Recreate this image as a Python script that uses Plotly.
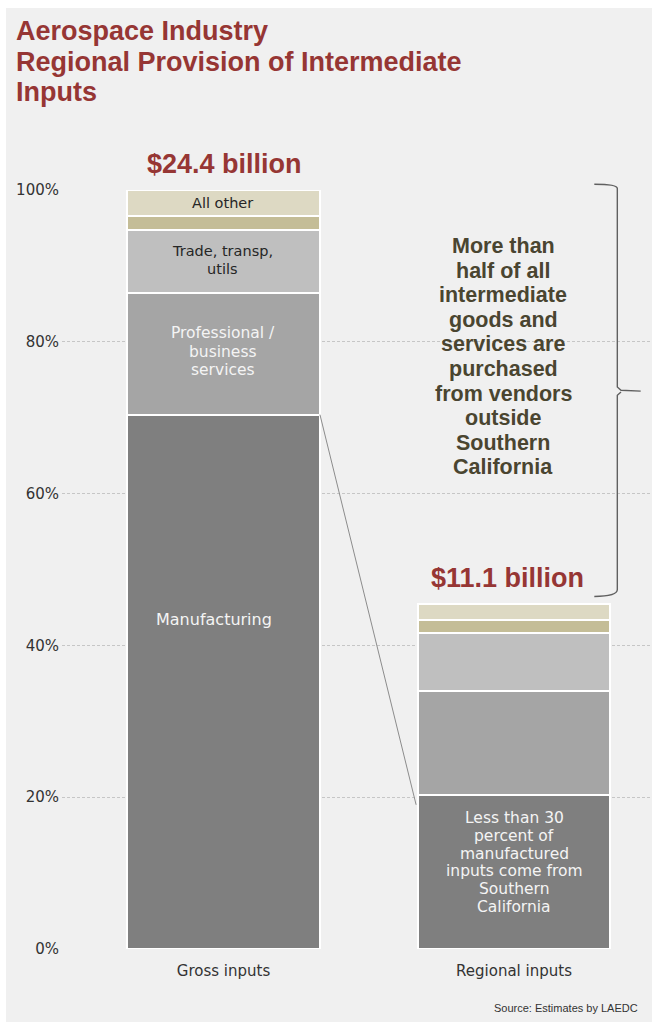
import plotly.graph_objects as go

# ---- data (percent of gross intermediate inputs) ----
categories = ["Gross inputs", "Regional inputs"]
segments = ["Manufacturing", "Professional / business services", "Trade, transp, utils", "Other (minor)", "All other"]
manufacturing = [70.4, 20.3]
professional = [16.0, 13.7]
trade = [8.3, 7.7]
minor_other = [1.9, 1.6]
all_other = [3.4, 2.2]
totals_label = ["$24.4 billion", "$11.1 billion"]
y_ticks = [0, 20, 40, 60, 80, 100]
y_tick_text = ["0%", "20%", "40%", "60%", "80%", "100%"]

series = [manufacturing, professional, trade, minor_other, all_other]
colors = ["#7f7f7f", "#a5a5a5", "#bfbfbf", "#c4bd97", "#ddd9c3"]

W, H = 652, 1024
ML, MR, MT, MB = 62, 0, 190, 75
X_RANGE = [-0.556, 1.475]
BAR_W = 0.664
xs = [0, 1]

fig = go.Figure()
for name, vals, col in zip(segments, series, colors):
    fig.add_trace(go.Bar(
        x=xs, y=vals, name=name, width=BAR_W,
        marker=dict(color=col, line=dict(color="white", width=2)),
        hoverinfo="skip", showlegend=False,
    ))

plot_w = W - ML - MR
plot_h = H - MT - MB


def px_x(px):
    return (px - ML) / plot_w


def px_y(py):
    return (H - MB - py) / plot_h


def dx(x):
    return (x - X_RANGE[0]) / (X_RANGE[1] - X_RANGE[0])


def dy(y):
    return y / 100.0


annotations = []


def add_lines(lines, x_px, y0_px, spacing, size, color, family, bold=False, xanchor="center"):
    for i, ln in enumerate(lines):
        txt = f"<b>{ln}</b>" if bold else ln
        annotations.append(dict(
            text=txt, x=px_x(x_px), y=px_y(y0_px + i * spacing),
            xref="paper", yref="paper", xanchor=xanchor, yanchor="middle",
            showarrow=False, font=dict(size=size, color=color, family=family),
        ))


HEAD_FONT = "Liberation Sans, Arial"
BODY_FONT = "DejaVu Sans, Verdana"
RED = "#963634"

# title
add_lines(["Aerospace Industry", "Regional Provision of Intermediate", "Inputs"],
          14, 31, 30.5, 27, RED, HEAD_FONT, bold=True, xanchor="left")

# totals above bars
gross_total = sum(s[0] for s in series)
reg_total = sum(s[1] for s in series)
for i, (lab, tot) in enumerate(zip(totals_label, [gross_total, reg_total])):
    annotations.append(dict(
        text=f"<b>{lab}</b>", x=dx(xs[i] + (0.005 if i == 0 else -0.024)),
        y=dy(tot) + 26 / plot_h,
        xref="paper", yref="paper", xanchor="center", yanchor="middle", showarrow=False,
        font=dict(size=27, color=RED, family=HEAD_FONT),
    ))

# segment labels on the gross bar
add_lines(["All other"], 223, 203, 17, 14.5, "#262626", BODY_FONT)
add_lines(["Trade, transp,", "utils"], 223, 251, 17.5, 14.5, "#262626", BODY_FONT)
add_lines(["Professional /", "business", "services"], 223, 333, 18.5, 15.5, "#f4f4f4", BODY_FONT)
add_lines(["Manufacturing"], 214, 619, 18, 16, "#f4f4f4", BODY_FONT)

# regional manufacturing note
add_lines(["Less than 30", "percent of", "manufactured", "inputs come from", "Southern", "California"],
          514, 818, 17.8, 15.5, "#f4f4f4", BODY_FONT)

# callout beside the brace
add_lines(["More than", "half of all", "intermediate", "goods and", "services are", "purchased",
           "from vendors", "outside", "Southern", "California"],
          503, 246, 24.6, 21.5, "#4a4530", HEAD_FONT, bold=True)

# source note
annotations.append(dict(
    text="Source: Estimates by LAEDC", x=px_x(640), y=px_y(1008),
    xref="paper", yref="paper", xanchor="right", yanchor="middle", showarrow=False,
    font=dict(size=11, color="#333333", family=HEAD_FONT),
))

shapes = []
# background panel
shapes.append(dict(type="rect", xref="paper", yref="paper",
                   x0=px_x(6), x1=px_x(W + 2), y0=px_y(1022), y1=px_y(8),
                   fillcolor="#f0f0f0", line=dict(width=0), layer="below"))

# connector from gross manufacturing top to regional manufacturing
shapes.append(dict(type="line", xref="x", yref="y",
                   x0=xs[0] + BAR_W / 2, y0=manufacturing[0],
                   x1=xs[1] - BAR_W / 2 - 0.005, y1=manufacturing[1] - 1.3,
                   line=dict(color="#8c8c8c", width=1)))

# curly brace spanning the share bought outside the region
xl, xh, xt, xk = 1.3556, 1.2764, 1.4361, 1.3683
top, bot = gross_total + 0.75, reg_total + 0.95
mid = (top + bot) / 2 - 0.1
pts = (f"M {dx(xh)},{dy(top)} Q {dx(xl)},{dy(top)} {dx(xl)},{dy(top - 0.55)} "
       f"L {dx(xl)},{dy(mid + 0.55)} L {dx(xk)},{dy(mid + 0.12)} L {dx(xt)},{dy(mid)} "
       f"M {dx(xk)},{dy(mid - 0.12)} L {dx(xl)},{dy(mid - 0.55)} "
       f"L {dx(xl)},{dy(bot + 0.9)} Q {dx(xl)},{dy(bot)} {dx(xh)},{dy(bot)}")
shapes.append(dict(type="path", xref="paper", yref="paper", path=pts,
                   line=dict(color="#606060", width=1.4)))

fig.update_layout(
    width=W, height=H,
    margin=dict(l=ML, r=MR, t=MT, b=MB, pad=0),
    barmode="stack", bargap=0,
    paper_bgcolor="white", plot_bgcolor="rgba(0,0,0,0)",
    annotations=annotations, shapes=shapes,
    xaxis=dict(range=X_RANGE, tickmode="array", tickvals=xs, ticktext=categories,
               showgrid=False, zeroline=False, showline=False, ticks="",
               tickfont=dict(size=15, color="#333333", family=BODY_FONT),
               ticklabelstandoff=11, fixedrange=True),
    yaxis=dict(range=[0, 100], tickmode="array", tickvals=y_ticks, ticktext=y_tick_text,
               showgrid=True, gridcolor="#c6c6c6", gridwidth=1, griddash="3px,2px",
               zeroline=False, showline=False, ticks="",
               tickfont=dict(size=15, color="#333333", family=BODY_FONT),
               ticklabelstandoff=2, fixedrange=True),
)

fig.write_html("out.html")
